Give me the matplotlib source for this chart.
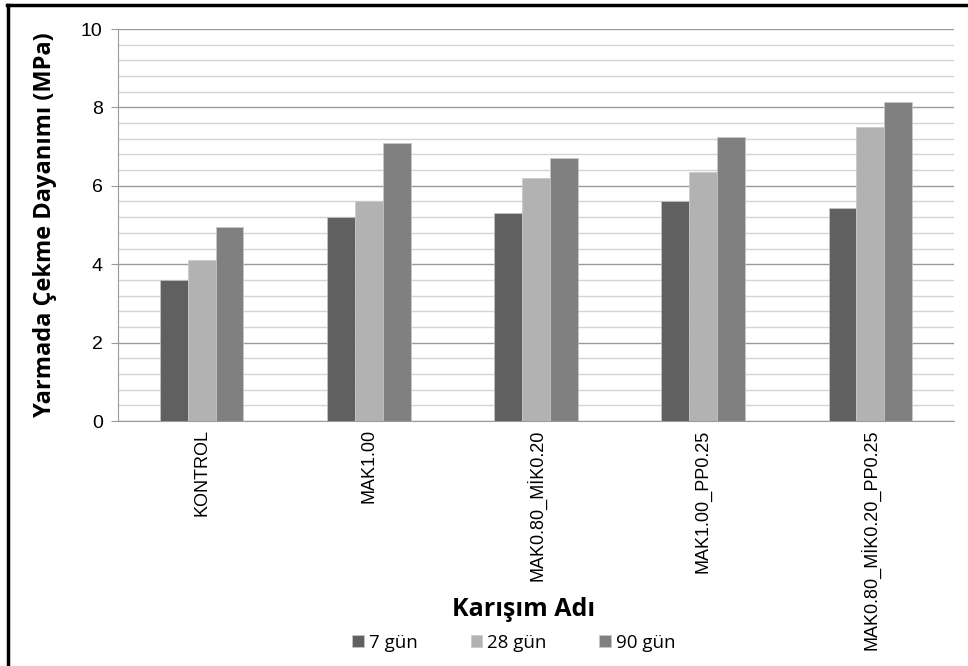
import numpy as np
import matplotlib
matplotlib.use('Agg')
import matplotlib.pyplot as plt
from matplotlib.lines import Line2D

mixes = ['KONTROL', 'MAK1.00', 'MAK0.80_MİK0.20', 'MAK1.00_PP0.25', 'MAK0.80_MİK0.20_PP0.25']
ages = ['7 gün', '28 gün', '90 gün']
g7 = [3.60, 5.20, 5.30, 5.61, 5.44]
g28 = [4.10, 5.61, 6.19, 6.34, 7.49]
g90 = [4.95, 7.10, 6.70, 7.25, 8.15]
colors = ['#606060', '#b2b2b2', '#808080']

fig = plt.figure(figsize=(9.68, 6.66), dpi=100)
W, H = 968, 666
ax = fig.add_axes([118 / W, 1 - 421 / H, (954 - 118) / W, (421 - 29) / H])

x = np.arange(len(mixes))
bw = 0.167
for i, (vals, c, lab) in enumerate(zip([g7, g28, g90], colors, ages)):
    ax.bar(x + (i - 1) * bw, vals, bw, color=c, edgecolor='#c8c8c8', linewidth=0.5,
           label=lab, zorder=3)

ax.set_xlim(-0.5, len(mixes) - 0.5)
ax.set_ylim(0, 10)
ax.set_yticks(np.arange(0, 11, 2))
ax.set_yticks(np.arange(0, 10.01, 0.4), minor=True)
ax.grid(axis='y', which='major', color='#9a9a9a', linewidth=1.0, zorder=0)
ax.grid(axis='y', which='minor', color='#d4d4d4', linewidth=1.0, zorder=0)
ax.tick_params(axis='y', which='major', length=5, color='#9a9a9a', labelsize=14, pad=6)
ax.tick_params(axis='y', which='minor', length=0)
ax.tick_params(axis='x', length=0, pad=6)
for lbl in ax.get_yticklabels():
    lbl.set_family('Liberation Sans')

ax.set_xticks(x)
ax.set_xticklabels(mixes, rotation=90, fontsize=13, family='Liberation Sans', va='top')

for s in ['top', 'right']:
    ax.spines[s].set_visible(False)
ax.spines['left'].set_color('#9a9a9a')
ax.spines['bottom'].set_color('#9a9a9a')

fig.text(45 / W, 1 - 225 / H, 'Yarmada Çekme Dayanımı (MPa)', rotation=90,
         ha='center', va='center', fontsize=17, fontweight='bold', family='Open Sans')
fig.text(524 / W, 1 - 610 / H, 'Karışım Adı', ha='center', va='center',
         fontsize=18, fontweight='bold', family='Open Sans')

fig.legend(loc='center', bbox_to_anchor=(514 / W, 1 - 643 / H), ncol=3, frameon=False,
           prop={'family': 'Open Sans', 'size': 13.5}, handlelength=0.6, handleheight=0.6,
           handletextpad=0.3, columnspacing=2.8)

# left and top frame lines
fig.add_artist(Line2D([8 / W, 8 / W], [0, 1 - 5 / H], color='black', linewidth=2.5,
                      transform=fig.transFigure))
fig.add_artist(Line2D([7 / W, 1], [1 - 5 / H, 1 - 5 / H], color='black', linewidth=2.5,
                      transform=fig.transFigure))

fig.savefig('out.png', dpi=100, facecolor='white')
